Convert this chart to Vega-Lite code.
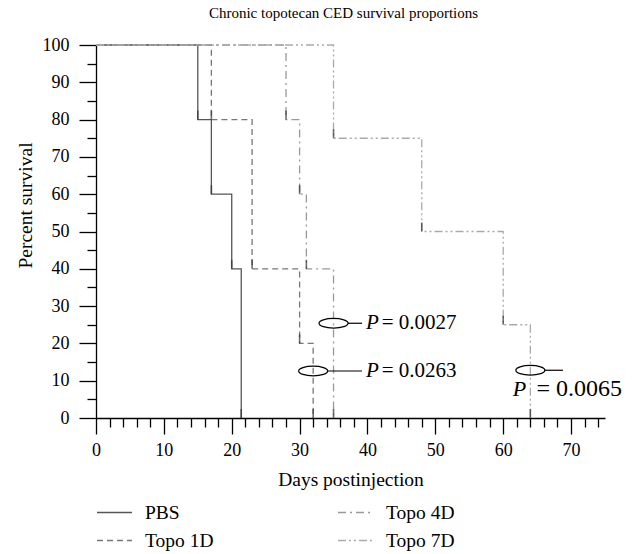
{
  "$schema": "https://vega.github.io/schema/vega-lite/v6.json",
  "autosize": "none",
  "width": 509,
  "height": 373,
  "padding": {"left": 96, "top": 45, "right": 35, "bottom": 136},
  "background": "white",
  "config": {
    "font": "Liberation Serif",
    "view": {"stroke": null},
    "axis": {
      "domainColor": "black",
      "domainWidth": 1.3,
      "tickColor": "black",
      "tickWidth": 1.3,
      "labelColor": "black",
      "titleColor": "black",
      "labelFont": "Liberation Serif",
      "titleFont": "Liberation Serif",
      "labelFontSize": 18,
      "titleFontSize": 19.5,
      "titleFontWeight": "normal",
      "grid": false,
      "labelFlush": false,
      "labelOverlap": false
    }
  },
  "title": {
    "text": "Chronic topotecan CED survival proportions",
    "font": "Liberation Serif",
    "fontSize": 15,
    "fontWeight": "normal",
    "color": "black",
    "offset": 15,
    "dx": -7
  },
  "datasets": {
    "curves": [
      {"group": "PBS", "day": 0, "survival": 100},
      {"group": "PBS", "day": 15, "survival": 80},
      {"group": "PBS", "day": 17, "survival": 60},
      {"group": "PBS", "day": 20, "survival": 40},
      {"group": "PBS", "day": 21.4, "survival": 0},
      {"group": "Topo 1D", "day": 0, "survival": 100},
      {"group": "Topo 1D", "day": 17, "survival": 80},
      {"group": "Topo 1D", "day": 23, "survival": 40},
      {"group": "Topo 1D", "day": 30, "survival": 20},
      {"group": "Topo 1D", "day": 32, "survival": 0},
      {"group": "Topo 4D", "day": 0, "survival": 100},
      {"group": "Topo 4D", "day": 28, "survival": 80},
      {"group": "Topo 4D", "day": 30, "survival": 60},
      {"group": "Topo 4D", "day": 31, "survival": 40},
      {"group": "Topo 4D", "day": 35, "survival": 0},
      {"group": "Topo 7D", "day": 0, "survival": 100},
      {"group": "Topo 7D", "day": 35, "survival": 75},
      {"group": "Topo 7D", "day": 48, "survival": 50},
      {"group": "Topo 7D", "day": 60, "survival": 25},
      {"group": "Topo 7D", "day": 64, "survival": 0}
    ],
    "ellipses": [
      {"day": 35, "survival": 25.4},
      {"day": 32, "survival": 12.6},
      {"day": 64, "survival": 12.8}
    ],
    "connectors": [
      {"day": 37.1, "dayEnd": 39.2, "survival": 25.4},
      {"day": 34.1, "dayEnd": 39.2, "survival": 12.6},
      {"day": 66.1, "dayEnd": 68.8, "survival": 12.8}
    ],
    "pLetters": [
      {"day": 39.8, "survival": 25.4},
      {"day": 39.8, "survival": 12.6}
    ],
    "pValues": [
      {"day": 42.1, "survival": 25.4, "label": "= 0.0027"},
      {"day": 42.1, "survival": 12.6, "label": "= 0.0263"}
    ],
    "pLetterLow": [
      {"day": 61.4, "survival": 7.8}
    ],
    "pValueLow": [
      {"day": 64.9, "survival": 7.8, "label": "= 0.0065"}
    ]
  },
  "encoding": {
    "x": {
      "field": "day",
      "type": "quantitative",
      "scale": {"domain": [0, 75], "nice": false},
      "title": "Days postinjection",
      "axis": {
        "values": [0,2,4,6,8,10,12,14,16,18,20,22,24,26,28,30,32,34,36,38,40,42,44,46,48,50,52,54,56,58,60,62,64,66,68,70,72,74],
        "labelExpr": "datum.value % 10 === 0 ? datum.label : ''",
        "tickSize": {"condition": {"test": "datum.value % 10 === 0", "value": 16}, "value": 9},
        "labelPadding": 7,
        "titlePadding": 11
      }
    },
    "y": {
      "field": "survival",
      "type": "quantitative",
      "scale": {"domain": [0, 100], "nice": false},
      "title": "Percent survival",
      "axis": {
        "values": [0,5,10,15,20,25,30,35,40,45,50,55,60,65,70,75,80,85,90,95,100],
        "labelExpr": "datum.value % 10 === 0 ? datum.label : ''",
        "tickSize": {"condition": {"test": "datum.value % 10 === 0", "value": 17}, "value": 9},
        "labelPadding": 10,
        "titleY": 160,
        "titlePadding": 7
      }
    }
  },
  "layer": [
    {
      "data": {"name": "curves"},
      "mark": {"type": "line", "interpolate": "step-after", "strokeWidth": 1.3},
      "encoding": {
        "color": {
          "field": "group",
          "type": "nominal",
          "scale": {
            "domain": ["PBS", "Topo 1D", "Topo 4D", "Topo 7D"],
            "range": ["#555555", "#777777", "#999999", "#aaaaaa"]
          },
          "legend": {
            "orient": "none",
            "legendX": 0,
            "legendY": 449,
            "columns": 2,
            "title": null,
            "labelFont": "Liberation Serif",
            "labelFontSize": 19.5,
            "labelColor": "black",
            "symbolSize": 1225,
            "symbolStrokeWidth": 1.3,
            "labelOffset": 12,
            "columnPadding": 121,
            "rowPadding": -8
          }
        },
        "strokeDash": {
          "field": "group",
          "type": "nominal",
          "scale": {
            "domain": ["PBS", "Topo 1D", "Topo 4D", "Topo 7D"],
            "range": [[1, 0], [6, 4], [8, 4, 2, 4], [8, 3, 2, 3, 2, 3]]
          },
          "legend": {
            "orient": "none",
            "legendX": 0,
            "legendY": 449,
            "columns": 2,
            "title": null,
            "labelFont": "Liberation Serif",
            "labelFontSize": 19.5,
            "labelColor": "black",
            "symbolSize": 1225,
            "symbolStrokeWidth": 1.3,
            "labelOffset": 12,
            "columnPadding": 121,
            "rowPadding": -8
          }
        }
      }
    },
    {
      "data": {"name": "curves"},
      "transform": [{"filter": "datum.day > 0"}],
      "mark": {"type": "point", "shape": "M0,-1L0,0", "size": 324, "filled": false, "stroke": "#333333", "strokeWidth": 1.6}
    },
    {
      "data": {"name": "ellipses"},
      "mark": {"type": "point", "shape": "M-1,0A1,0.33,0,1,0,1,0A1,0.33,0,1,0,-1,0Z", "size": 841, "filled": false, "stroke": "black", "strokeWidth": 1.2, "opacity": 1}
    },
    {
      "data": {"name": "connectors"},
      "mark": {"type": "rule", "color": "black", "strokeWidth": 1.2},
      "encoding": {
        "x2": {"field": "dayEnd"}
      }
    },
    {
      "data": {"name": "pLetters"},
      "mark": {"type": "text", "text": "P", "font": "Liberation Serif", "fontStyle": "italic", "fontSize": 21, "align": "left", "baseline": "middle", "color": "black"}
    },
    {
      "data": {"name": "pValues"},
      "mark": {"type": "text", "font": "Liberation Serif", "fontSize": 21, "align": "left", "baseline": "middle", "color": "black"},
      "encoding": {
        "text": {"field": "label"}
      }
    },
    {
      "data": {"name": "pLetterLow"},
      "mark": {"type": "text", "text": "P", "font": "Liberation Serif", "fontStyle": "italic", "fontSize": 22, "align": "left", "baseline": "middle", "color": "black"}
    },
    {
      "data": {"name": "pValueLow"},
      "mark": {"type": "text", "font": "Liberation Serif", "fontSize": 24, "align": "left", "baseline": "middle", "color": "black"},
      "encoding": {
        "text": {"field": "label"}
      }
    }
  ]
}
